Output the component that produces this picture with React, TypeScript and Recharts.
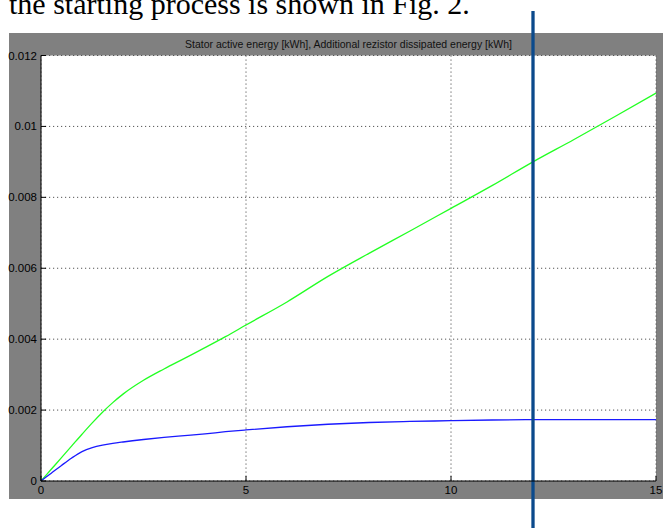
import React from "react";
import {
	LineChart,
	Line,
	XAxis,
	YAxis,
	CartesianGrid,
	ReferenceLine,
} from "recharts";

// simulation time [s]
const TIME = [
	0, 0.25, 0.5, 0.75, 1, 1.25, 1.5, 1.75, 2, 2.5, 3, 3.5, 4, 4.5, 5, 6, 7, 8, 9,
	10, 11, 12, 13, 14, 15,
];
// stator active energy [kWh] (green)
const STATOR_ENERGY = [
	0, 0.00033, 0.00066, 0.00099, 0.00132, 0.00164, 0.00194, 0.00221, 0.00245,
	0.00284, 0.00316, 0.00346, 0.00376, 0.00407, 0.0044, 0.00505, 0.00577,
	0.00642, 0.00705, 0.00769, 0.00833, 0.009, 0.00963, 0.01028, 0.01094,
];
// additional resistor dissipated energy [kWh] (blue)
const RESISTOR_ENERGY = [
	0, 0.00022, 0.00044, 0.00065, 0.00083, 0.00094, 0.00101, 0.00106, 0.0011,
	0.00117, 0.00123, 0.00128, 0.00133, 0.00139, 0.00144, 0.00153, 0.0016,
	0.00165, 0.00168, 0.0017, 0.00172, 0.00173, 0.00173, 0.00173, 0.00173,
];

const X_TICKS = [0, 5, 10, 15];
const Y_TICKS = [0, 0.002, 0.004, 0.006, 0.008, 0.01, 0.012];

const TITLE =
	"Stator active energy [kWh], Additional rezistor dissipated energy [kWh]";
const CAPTION = "the starting process is shown in Fig. 2.";

// the cursor line drawn over the figure in the paper
const MARKER_X = 12;
const MARKER_Y_RANGE = [-0.001325, 0.013255];

const data = TIME.map((t, i) => ({
	t,
	stator: STATOR_ENERGY[i],
	resistor: RESISTOR_ENERGY[i],
}));

const FONT = "'Liberation Sans', Arial, sans-serif";
const tickFont = { fontSize: 11.5, fill: "#000", fontFamily: FONT };

const App: React.FC = () => {
	return (
		<div
			style={{
				position: "absolute",
				left: 0,
				top: 0,
				width: 663,
				height: 528,
				overflow: "hidden",
				background: "#fff",
			}}
		>
			<svg
				width={663}
				height={30}
				style={{ position: "absolute", left: 0, top: 0 }}
			>
				<text
					x={9}
					y={13.5}
					fontSize={30}
					fontFamily="'Liberation Serif', 'Times New Roman', serif"
					fill="#000"
				>
					{CAPTION}
				</text>
			</svg>
			{/* grey figure window */}
			<div
				style={{
					position: "absolute",
					left: 9,
					top: 33,
					width: 654,
					height: 466,
					background: "#808080",
				}}
			/>
			<div
				style={{
					position: "absolute",
					left: 41,
					width: 615,
					top: 38,
					lineHeight: "12px",
					fontSize: 10.5,
					textAlign: "center",
					color: "#111",
					fontFamily: FONT,
					whiteSpace: "nowrap",
				}}
			>
				{TITLE}
			</div>
			<div style={{ position: "absolute", left: 0, top: 0 }}>
				<LineChart
					width={663}
					height={528}
					data={data}
					margin={{ top: 55.5, right: 7, left: 0, bottom: 0 }}
				>
					<CartesianGrid
						xAxisId="bottom"
						yAxisId="left"
						fill="#ffffff"
						fillOpacity={1}
						stroke="#555"
						strokeDasharray="1.2 2.8"
					/>
					<XAxis
						xAxisId="bottom"
						dataKey="t"
						type="number"
						domain={[0, 15]}
						ticks={X_TICKS}
						interval={0}
						height={47}
						tickSize={-5}
						tickMargin={10}
						fontSize={11.5}
						tick={tickFont}
						tickLine={{ stroke: "#000" }}
						axisLine={{ stroke: "#000" }}
					/>
					<XAxis
						xAxisId="top"
						orientation="top"
						dataKey="t"
						type="number"
						domain={[0, 15]}
						ticks={X_TICKS}
						interval={0}
						height={0}
						tickSize={-5}
						tickFormatter={() => ""}
						tickLine={{ stroke: "#222" }}
						axisLine={{ stroke: "#222" }}
					/>
					<YAxis
						yAxisId="left"
						type="number"
						domain={[0, 0.012]}
						ticks={Y_TICKS}
						interval={0}
						width={41}
						tickSize={-5}
						tickMargin={9}
						fontSize={11.5}
						tick={tickFont}
						tickFormatter={(v: number) => String(v)}
						tickLine={{ stroke: "#000" }}
						axisLine={{ stroke: "#000" }}
					/>
					<YAxis
						yAxisId="right"
						orientation="right"
						type="number"
						domain={[0, 0.012]}
						ticks={Y_TICKS}
						interval={0}
						width={0}
						tickSize={-5}
						tickFormatter={() => ""}
						tickLine={{ stroke: "#222" }}
						axisLine={{ stroke: "#222" }}
					/>
					<Line
						xAxisId="bottom"
						yAxisId="left"
						type="monotone"
						dataKey="stator"
						stroke="#22ff22"
						strokeWidth={1.3}
						dot={false}
						isAnimationActive={false}
					/>
					<Line
						xAxisId="bottom"
						yAxisId="left"
						type="monotone"
						dataKey="resistor"
						stroke="#1a1aff"
						strokeWidth={1.3}
						dot={false}
						isAnimationActive={false}
					/>
					<ReferenceLine
						xAxisId="bottom"
						yAxisId="left"
						ifOverflow="visible"
						segment={[
							{ x: MARKER_X, y: MARKER_Y_RANGE[0] },
							{ x: MARKER_X, y: MARKER_Y_RANGE[1] },
						]}
						stroke="#0b4a8c"
						strokeWidth={3.3}
					/>
				</LineChart>
			</div>
		</div>
	);
};

export default App;
